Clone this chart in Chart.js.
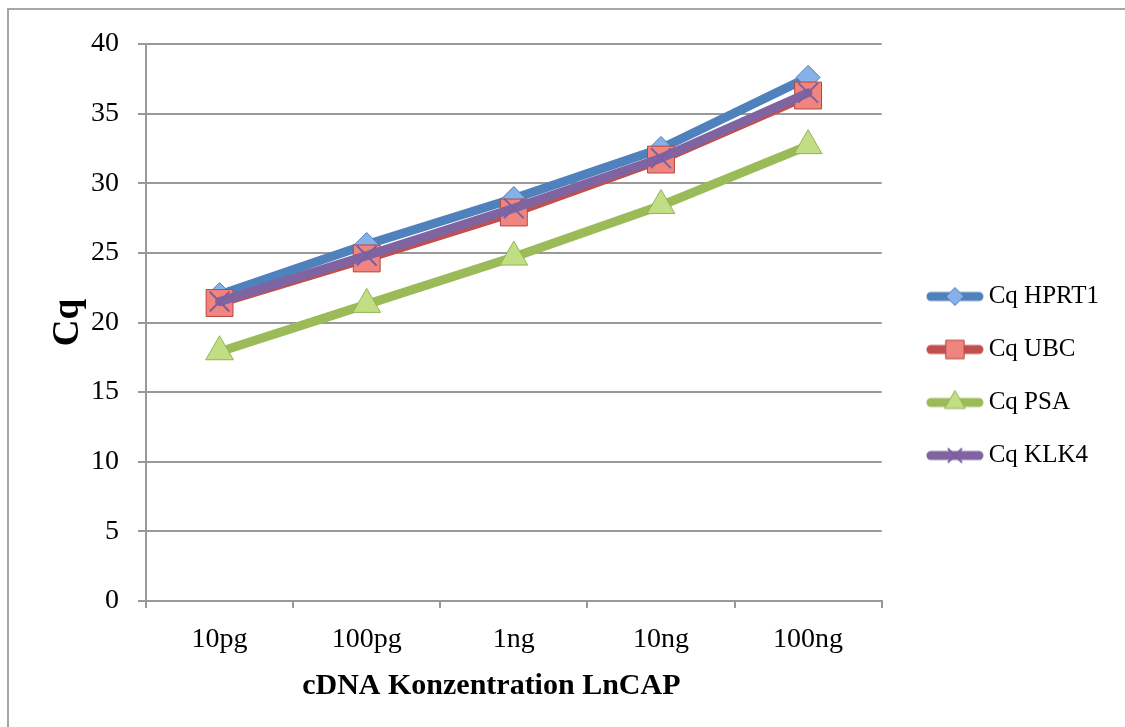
<!DOCTYPE html>
<html>
<head>
<meta charset="utf-8">
<script src="https://cdn.jsdelivr.net/npm/chart.js@4/dist/chart.umd.min.js"></script>
<style>
html, body { margin: 0; padding: 0; background: #fff; }
#wrap { position: relative; width: 1125px; height: 727px; }
#frame {
    position: absolute; left: 7px; top: 8px; right: 0; bottom: 0;
    border-top: 2px solid #a6a6a6; border-left: 2px solid #a6a6a6;
    pointer-events: none;
}
</style>
</head>
<body>
<div id="wrap">
<canvas id="cq_chart" width="1125" height="727"></canvas>
<div id="frame"></div>
</div>
<script>
var concentrations = ["10pg", "100pg", "1ng", "10ng", "100ng"];

var cq_hprt1 = [22.0, 25.6, 28.9, 32.5, 37.6];
var cq_ubc = [21.4, 24.6, 27.9, 31.7, 36.3];
var cq_psa = [17.9, 21.3, 24.7, 28.4, 32.7];
var cq_klk4 = [21.5, 24.8, 28.2, 31.8, 36.5];

var series_names = ["Cq HPRT1", "Cq UBC", "Cq PSA", "Cq KLK4"];

var serif = "'Liberation Serif', 'Times New Roman', serif";

// line colour, marker fill, marker border, marker, size on chart, size in legend
var looks = [
    { line: '#4f81bd', fill: '#86b0e8', edge: '#4a7ebb', style: 'rectRot', r: 12, lr: 9 },
    { line: '#c0504d', fill: '#f08580', edge: '#b8463f', style: 'rect', r: 19, lr: 13 },
    { line: '#9bbb59', fill: '#c2de84', edge: '#93b454', style: 'triangle', r: 16, lr: 12 },
    { line: '#8064a2', fill: '#8064a2', edge: '#7b5fa0', style: 'crossRot', r: 14, lr: 10 }
];

function legend_icon(look)
{
    // thick line with the marker in the middle, like the office legend key
    var c = document.createElement('canvas');
    c.width = 82;
    c.height = 30;
    var ctx = c.getContext('2d');
    ctx.lineCap = 'round';
    ctx.lineWidth = 9;
    ctx.strokeStyle = look.line;
    ctx.beginPath();
    ctx.moveTo(29, 15);
    ctx.lineTo(77, 15);
    ctx.stroke();
    ctx.lineCap = 'butt';
    ctx.fillStyle = look.fill;
    ctx.strokeStyle = look.edge;
    ctx.lineWidth = look.style == 'crossRot' ? 2 : 1;
    Chart.helpers.drawPoint(ctx, {
	pointStyle: look.style,
	radius: look.lr,
	rotation: 0,
	borderWidth: ctx.lineWidth
    }, 53, 15);
    return c;
}

function make_set(i, values)
{
    var look = looks[i];
    return {
	label: series_names[i],
	data: values,
	borderColor: look.line,
	backgroundColor: look.line,
	borderWidth: 9,
	borderCapStyle: 'round',
	borderJoinStyle: 'round',
	tension: 0,
	pointStyle: look.style,
	pointRadius: look.r,
	pointHoverRadius: look.r,
	pointBackgroundColor: look.fill,
	pointBorderColor: look.edge,
	pointBorderWidth: look.style == 'crossRot' ? 2 : 1,
	order: 4 - i
    };
}

function run_it()
{
    var icons = looks.map(legend_icon);
    var ctx = document.getElementById('cq_chart');

    new Chart(ctx, {
	type: 'line',
	data: {
	    labels: concentrations,
	    datasets: [
		make_set(0, cq_hprt1),
		make_set(1, cq_ubc),
		make_set(2, cq_psa),
		make_set(3, cq_klk4)
	    ]
	},
	options: {
	    responsive: false,
	    animation: false,
	    layout: {
		padding: { left: 46, top: 44, right: 16, bottom: 19 }
	    },
	    plugins: {
		tooltip: { enabled: false },
		legend: {
		    position: 'right',
		    align: 'center',
		    labels: {
			usePointStyle: true,
			pointStyleWidth: 66.5,
			padding: 28,
			color: '#000',
			font: { family: serif, size: 25 },
			sort: function(a, b) { return a.datasetIndex - b.datasetIndex; },
			generateLabels: function(chart) {
			    var items = Chart.defaults.plugins.legend.labels.generateLabels(chart);
			    items.forEach(function(it) {
				it.pointStyle = icons[it.datasetIndex];
			    });
			    return items;
			}
		    }
		}
	    },
	    scales: {
		x: {
		    offset: true,
		    border: { color: '#999', width: 2 },
		    grid: {
			offset: true,
			drawOnChartArea: false,
			drawTicks: true,
			tickLength: 7,
			color: '#999',
			lineWidth: 2
		    },
		    ticks: {
			padding: 15,
			color: '#000',
			font: { family: serif, size: 28 }
		    },
		    title: {
			display: true,
			// trailing spaces nudge the title left, as in the original
			text: 'cDNA Konzentration LnCAP\u00a0\u00a0\u00a0\u00a0\u00a0\u00a0',
			color: '#000',
			font: { family: serif, size: 30, weight: 'bold' },
			padding: { top: 0, bottom: 4 }
		    },
		    afterFit: function(axis) { axis.height = 107; }
		},
		y: {
		    min: 0,
		    max: 40,
		    border: { color: '#999', width: 2 },
		    grid: {
			color: '#999',
			lineWidth: 2,
			tickLength: 8
		    },
		    ticks: {
			stepSize: 5,
			padding: 19,
			color: '#000',
			font: { family: serif, size: 28 }
		    },
		    title: {
			display: true,
			text: 'Cq',
			color: '#000',
			font: { family: serif, size: 37, weight: 'bold' },
			padding: { top: 0, bottom: 0 }
		    },
		    afterFit: function(axis) { axis.width = 100; }
		}
	    }
	}
    });
}

run_it();
</script>
</body>
</html>
